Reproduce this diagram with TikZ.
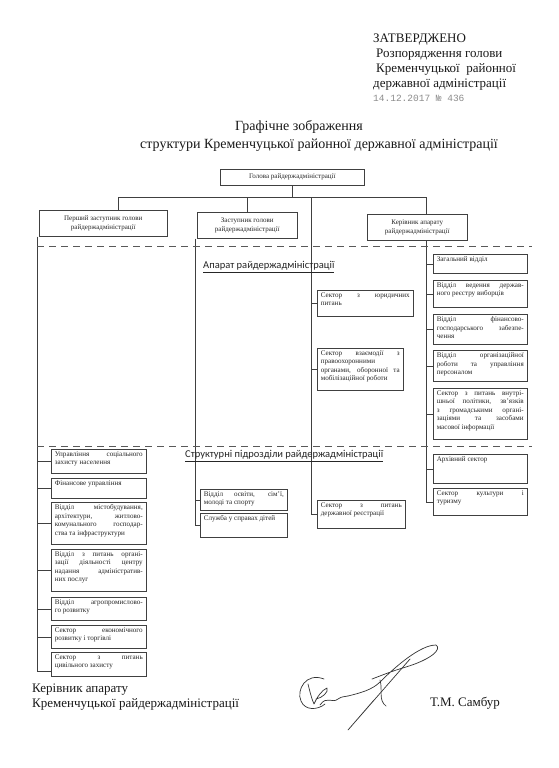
\documentclass[tikz,border=0pt]{standalone}
\usepackage{fontspec}
\setmainfont{Liberation Serif}
\newfontfamily\carl{Carlito}
\newfontfamily\monof{Liberation Mono}
\tolerance=10000 \hbadness=10000 \hyphenpenalty=10000 \exhyphenpenalty=0
\tikzset{
 bx/.style={draw=black!75, line width=0.55pt, inner xsep=3.5pt, inner ysep=2.5pt, anchor=north west, font=\fontsize{7.1}{8.4}\selectfont, text=black!85},
 cbx/.style={draw=black!75, line width=0.55pt, align=center, anchor=north west, inner sep=1pt, font=\fontsize{7}{9}\selectfont, text=black!85},
 ln/.style={draw=black!75, line width=0.55pt},
 dsh/.style={draw=black!65, line width=0.55pt, dash pattern=on 7pt off 5pt},
 lbl/.style={anchor=west, font=\carl\fontsize{10.5}{12}\selectfont, text=black!85, inner sep=0pt},
 hd/.style={anchor=base west, font=\fontsize{13}{15}\selectfont, text=black!90, inner sep=0pt},
 sig/.style={draw=black!80, line width=0.7pt, line cap=round, line join=round},
}
\newcommand{\bx}[6]{\node[bx] (#1) at (#2,#3) {\parbox[c][\dimexpr#5pt-5pt\relax][t]{\dimexpr#4pt-7pt\relax}{#6}};}
\begin{document}
\begin{tikzpicture}[x=1pt,y=-1pt]
\useasboundingbox[fill=white] (0,0) rectangle (558,768);

% header text
\node[hd] (zat) at (373,43) {ЗАТВЕРДЖЕНО};
\node[hd] (roz) at (376,58) {Розпорядження голови};
\node[hd] (krem) at (376,73) {Кременчуцької\ \ районної};
\node[hd] (derzh) at (373,88) {державної адміністрації};
\node[anchor=base west, inner sep=0pt, font=\monof\fontsize{9.5}{11}\selectfont, text=black!45] (date) at (373,101) {14.12.2017 № 436};

\node[anchor=base, inner sep=0pt, font=\fontsize{14}{16}\selectfont, text=black!90] (t1) at (299,130) {Графічне зображення};
\node[anchor=base, inner sep=0pt, font=\fontsize{14}{16}\selectfont, text=black!90] (t2) at (319,148) {структури Кременчуцької районної державної адміністрації};

% top level boxes
\node[cbx, minimum width=144pt, minimum height=16pt] (head) at (220,169) {Голова райдержадміністрації};
\node[cbx, minimum width=128pt, minimum height=26pt] (b1) at (39,210) {Перший заступник голови\\райдержадміністрації};
\node[cbx, minimum width=100pt, minimum height=26pt] (b2) at (197,212) {Заступник голови\\райдержадміністрації};
\node[cbx, minimum width=100pt, minimum height=26pt] (b4) at (367,214) {Керівник апарату\\райдержадміністрації};

% right column
\bx{zag}{433}{254}{94}{19}{Загальний відділ}
\bx{ved}{433}{280}{94}{27}{Відділ ведення держав-\linebreak ного реєстру виборців}
\bx{finh}{433}{314}{94}{30}{Відділ фінансово-\linebreak господарського забезпе-\linebreak чення}
\bx{org}{433}{350}{94}{31}{Відділ організаційної\linebreak роботи та управління\linebreak персоналом}
\bx{vnutr}{433}{388}{94}{51}{Сектор з питань внутрі-\linebreak шньої політики, зв’язків\linebreak з громадськими органі-\linebreak заціями та засобами\linebreak масової інформації}
\bx{arkh}{433}{454}{94}{29}{Архівний сектор}
\bx{kult}{433}{488}{94}{27}{Сектор культури і\linebreak туризму}

% centre column
\bx{yur}{317}{290}{96}{26}{Сектор з юридичних\linebreak питань}
\bx{vzaem}{317}{348}{86}{42}{Сектор взаємодії з\linebreak правоохоронними\newline органами, оборонної та\linebreak мобілізаційної роботи}
\bx{reestr}{317}{500}{88}{28}{Сектор з питань\linebreak державної реєстрації}

% middle-left column
\bx{osv}{200}{489}{87}{21}{Відділ освіти, сім’ї,\linebreak молоді та спорту}
\bx{sluzh}{200}{513}{87}{24}{Служба у справах дітей}

% left column
\bx{usz}{51}{449}{95}{24}{Управління соціального\linebreak захисту населення}
\bx{fin}{51}{478}{95}{20}{Фінансове управління}
\bx{mist}{51}{502}{95}{42}{Відділ містобудування,\linebreak архітектури, житлово-\linebreak комунального господар-\linebreak ства та інфраструктури}
\bx{cnap}{51}{549}{95}{42}{Відділ з питань органі-\linebreak зації діяльності центру\linebreak надання адміністратив-\linebreak них послуг}
\bx{agro}{51}{597}{95}{23}{Відділ агропромислово-\linebreak го розвитку}
\bx{econ}{51}{625}{95}{23}{Сектор економічного\linebreak розвитку і торгівлі}
\bx{civ}{51}{652}{95}{24}{Сектор з питань\linebreak цивільного захисту}

% tree
\coordinate (j1) at (118,197);
\coordinate (j2) at (247,197);
\coordinate (j3) at (311,197);
\coordinate (j4) at (426,197);
\draw[ln] (j1) -- (j4);
\draw[ln] (head.south) -- (head.south |- j1);
\draw[ln] (j1) -- (j1 |- b1.north);
\draw[ln] (j2) -- (j2 |- b2.north);
\draw[ln] (j4) -- (j4 |- b4.north);

% centre trunk
\draw[ln] (j3) -- (j3 |- reestr.west);
\foreach \n in {yur,vzaem,reestr} \draw[ln] (\n.west) -- (\n.west -| j3);

% right trunk
\draw[ln] (j4 |- b4.south) -- (j4 |- kult.west);
\foreach \n in {zag,ved,finh,org,vnutr,arkh,kult} \draw[ln] (\n.west) -- (\n.west -| j4);

% left trunk
\coordinate (lt) at ([xshift=-2pt]b1.south west);
\coordinate (civc) at ([yshift=-7pt]civ.west);
\draw[ln] (lt) -- (lt |- civc) -- (civc);
\foreach \n in {usz,fin,mist,cnap,agro,econ} \draw[ln] (\n.west) -- (\n.west -| lt);

% middle-left trunk
\coordinate (mt) at ([xshift=-2pt]b2.south west);
\draw[ln] (mt) -- (mt |- sluzh.west) -- (sluzh.west);
\draw[ln] (osv.west) -- (osv.west -| mt);

% dashed separators
\coordinate (d1a) at (37,246);
\coordinate (d1b) at (532,246);
\coordinate (d2a) at (37,446);
\coordinate (d2b) at (532,446);
\draw[dsh] (d1a) -- (d1b);
\draw[dsh] (d2a) -- (d2b);

% section labels
\node[lbl] (apl) at (203,267) {\underline{Апарат райдержадміністрації}};
\node[lbl] (spl) at (185,456) {\underline{Структурні підрозділи райдержадміністрації}};

% footer
\node[hd] (f1) at (32,692) {Керівник апарату};
\node[hd] (f2) at (32,707) {Кременчуцької райдержадміністрації};
\node[hd] (f3) at (430,706) {Т.М. Самбур};

% signature
\draw[sig] (324,679) .. controls (306,672) and (296,690) .. (301,701) .. controls (305,711) and (318,710) .. (325,704);
\draw[sig] (308,684) .. controls (310,692) and (312,700) .. (314,704) .. controls (317,697) and (322,690) .. (327,688) .. controls (329,692) and (322,698) .. (316,699);
\draw[sig] (320,705) .. controls (327,695) and (332,704) .. (338,699) .. controls (342,696) and (345,697) .. (348,696);
\draw[sig] (348,696) .. controls (360,693) and (372,690) .. (380,682) .. controls (395,667) and (420,645) .. (436,645) .. controls (442,649) and (432,659) .. (406,667) .. controls (392,671) and (380,676) .. (372,679);
\draw[sig] (410,659) -- (348,730) -- (374,700);
\draw[sig] (380,680) .. controls (383,690) and (378,700) .. (386,706);
\end{tikzpicture}
\end{document}
